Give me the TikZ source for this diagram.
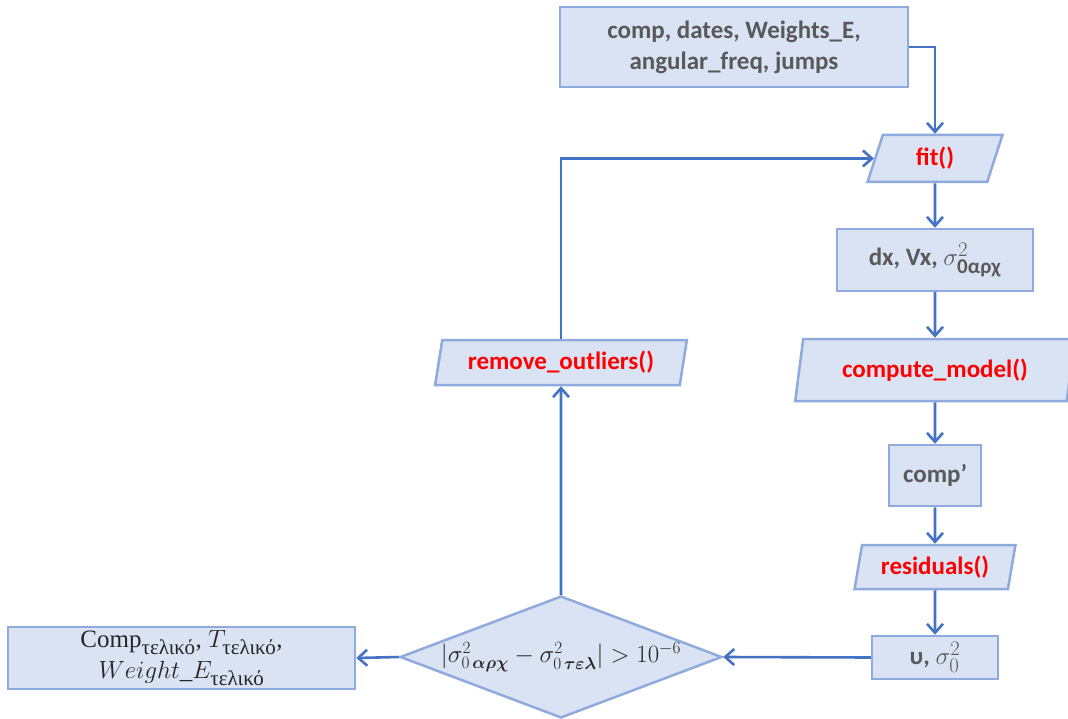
\documentclass[tikz,border=0pt]{standalone}
\usepackage{amsmath}
\usepackage{fontspec}
\setmainfont{Carlito}
\newfontfamily\grserif{Liberation Serif}
\usetikzlibrary{shapes.geometric,arrows.meta}
\DeclareMathSizes{25}{28}{21}{16}
\DeclareMathSizes{23}{23}{18}{14}
\definecolor{boxfill}{HTML}{DAE3F3}
\definecolor{boxline}{HTML}{8FAADC}
\definecolor{flow}{HTML}{4472C4}
\definecolor{txtgray}{HTML}{595959}
\definecolor{fnred}{HTML}{FF0000}

\begin{document}
\begin{tikzpicture}[x=1pt,y=-1pt,
  base/.style={fill=boxfill,draw=boxline,line width=2.5pt,inner sep=0pt,
    align=center,font=\fontsize{25}{31}\selectfont\bfseries,text=txtgray},
  box/.style={base,rectangle},
  io/.style={base,trapezium,trapezium left angle=76,trapezium right angle=104,
    trapezium stretches=true,text=fnred},
  decision/.style={base,diamond,aspect=2.64,
    font=\fontsize{23}{28}\selectfont,text=black!85},
  flowline/.style={draw=flow,line width=2.6pt,
    -{Straight Barb[length=9pt,width=16pt]}}]
\useasboundingbox (0,0) rectangle (1068,719);

% main chain on the right
\node[box, minimum width=348pt, minimum height=80pt] (in) at (734,47)
  {comp, dates, Weights\_E,\\angular\_freq, jumps};
\node[io, minimum width=135pt, minimum height=47pt] (fit) at (935,158.5) {fit()};
\node[box, minimum width=196pt, minimum height=62pt] (dx) at (935,260)
  {dx, Vx, $\sigma^{2}_{\text{0αρχ}}$};
\node[io, minimum width=280pt, minimum height=62pt] (cm) at (935,370) {compute\_model()};
\node[box, minimum width=92pt, minimum height=61pt] (cp) at (935,475.5) {comp’};
\node[io, minimum width=161pt, minimum height=44pt] (res) at (935,567) {residuals()};
\node[box, minimum width=126pt, minimum height=43pt] (u) at (935,657.5)
  {υ, $\sigma^{2}_{0}$};

% convergence test and its two exits
\node[decision, minimum width=322pt, minimum height=122pt] (dia) at (561,657)
  {$|\sigma^{2}_{0\,\boldsymbol{\alpha\rho\chi}} - \sigma^{2}_{0\,\boldsymbol{\tau\varepsilon\lambda}}| > 10^{-6}$};
\node[box, minimum width=347pt, minimum height=62pt,
  font=\grserif\fontsize{25}{31}\selectfont, text=black!85] (out) at (181.5,658)
  {Comp$_{\text{τελικό}}$, $T_{\text{τελικό}}$,\\ $Weight\_E_{\text{τελικό}}$};
\node[io, minimum width=252pt, minimum height=45pt] (ro) at (561,362.5)
  {remove\_outliers()};

% connectors
\draw[flowline] (in.east) -| (fit.north);
\draw[flowline] (fit.south) -- (dx.north);
\draw[flowline] (dx.south) -- (cm.north);
\draw[flowline] (cm.south) -- (cp.north);
\draw[flowline] (cp.south) -- (res.north);
\draw[flowline] (res.south) -- (u.north);
\draw[flowline] (u.west) -- (dia.east);
\draw[flowline] (dia.west) -- (out.east);
\draw[flowline] (dia.north) -- (ro.south);
\draw[flowline] (ro.north) |- (fit.west);
\end{tikzpicture}
\end{document}
